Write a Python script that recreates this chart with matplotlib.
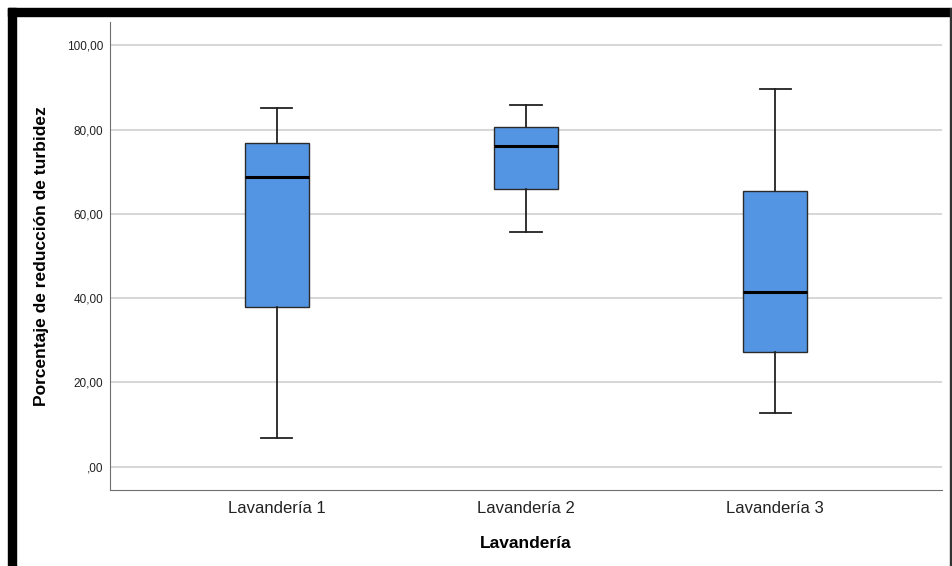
import matplotlib
matplotlib.use("Agg")
import matplotlib.pyplot as plt
from matplotlib.ticker import FuncFormatter
from matplotlib.patches import Rectangle

plt.rcParams['font.family'] = ['Liberation Sans', 'DejaVu Sans']

categories = ["Lavandería 1", "Lavandería 2", "Lavandería 3"]
whislo = [6.9, 55.8, 12.8]
q1 = [38.0, 65.8, 27.3]
med = [68.8, 76.0, 41.5]
q3 = [76.9, 80.7, 65.5]
whishi = [85.2, 85.7, 89.5]
yticks = [0, 20, 40, 60, 80, 100]

stats = []
for i, name in enumerate(categories):
    stats.append(dict(label=name, whislo=whislo[i], q1=q1[i], med=med[i],
                      q3=q3[i], whishi=whishi[i], fliers=[]))

fig = plt.figure(figsize=(9.53, 5.66), dpi=100)
ax = fig.add_axes([110/953, 1 - 490/566, 832/953, 468/566])

ax.bxp(stats, positions=[1, 2, 3], widths=0.255, patch_artist=True,
       showfliers=False,
       boxprops=dict(facecolor="#5495e3", edgecolor="#2b2b2b", linewidth=1.0),
       medianprops=dict(color="black", linewidth=2.2),
       whiskerprops=dict(color="#222222", linewidth=1.3),
       capprops=dict(color="#222222", linewidth=1.3),
       capwidths=0.125, zorder=3)

ax.set_xlim(0.33, 3.67)
ax.set_ylim(-5.5, 105.5)
ax.set_yticks(yticks)

def fmt(v, pos):
    s = f"{v:.2f}".replace(".", ",")
    return s[1:] if s.startswith("0") else s
ax.yaxis.set_major_formatter(FuncFormatter(fmt))

ax.grid(axis="y", color="#cfcfcf", linewidth=1.2, zorder=0)
ax.set_axisbelow(True)
for side in ["top", "right"]:
    ax.spines[side].set_visible(False)
ax.spines["left"].set_color("#6e6e6e")
ax.spines["bottom"].set_color("#6e6e6e")
ax.tick_params(axis="y", length=0, labelsize=8.5, pad=5, labelcolor="#222222")
ax.tick_params(axis="x", length=0, labelsize=12, pad=8, labelcolor="#222222")

ax.set_xlabel("Lavandería", fontsize=12.5, fontweight="bold")
ax.set_ylabel("Porcentaje de reducción de turbidez", fontsize=12.5,
              fontweight="bold")
ax.yaxis.set_label_coords(-68/832, 0.5)
ax.yaxis.label.set_va("center")
ax.xaxis.set_label_coords(0.5, -53/468)
ax.xaxis.label.set_va("center")

# black frame around the picture
fig.patches.append(Rectangle((8/953, 1 - 16/566), 943/953, 8/566,
                             transform=fig.transFigure, color="black"))
fig.patches.append(Rectangle((8/953, 0), 8/953, 1 - 8/566,
                             transform=fig.transFigure, color="black"))
fig.patches.append(Rectangle((950/953, 0), 1.5/953, 1 - 8/566,
                             transform=fig.transFigure, color="#333333"))

fig.savefig("out.png", dpi=100)
